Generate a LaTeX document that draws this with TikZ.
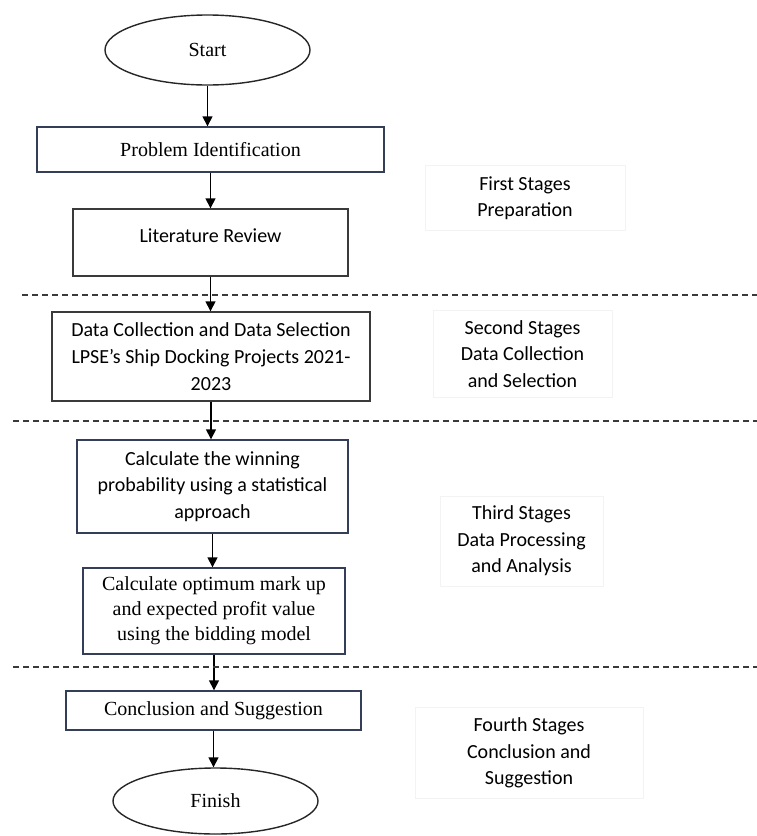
\documentclass[tikz,border=0pt]{standalone}
\usepackage{fontspec}
\setmainfont{Liberation Serif}
\newfontfamily\calib{Carlito}
\usetikzlibrary{shapes.geometric,arrows.meta}
\definecolor{navy}{RGB}{52,62,88}
\definecolor{dgray}{RGB}{58,58,58}
\definecolor{faint}{RGB}{243,243,243}
\begin{document}
\begin{tikzpicture}[x=1pt,y=-1pt,
  serifbox/.style={draw=navy,line width=1.4pt,inner sep=0pt,align=center,
     font=\fontsize{20}{25}\selectfont},
  sansbox/.style={draw=dgray,line width=1.4pt,inner sep=0pt,align=center,
     font=\calib\fontsize{20}{26.8}\selectfont},
  terminal/.style={ellipse,draw=black!85,line width=1.4pt,inner sep=0pt,
     font=\fontsize{20}{25}\selectfont},
  stagelabel/.style={draw=faint,line width=0.6pt,inner sep=0pt,align=center,
     font=\calib\fontsize{20}{26.5}\selectfont},
  flow/.style={draw=black,line width=1.5pt,-{Triangle[length=10pt,width=10pt]}},
  sep/.style={draw=dgray,line width=1.2pt,dash pattern=on 6pt off 4pt}]
\useasboundingbox (0,0) rectangle (757,836);

% flow nodes
\node[terminal,minimum width=205,minimum height=70] (start) at (207.5,50) {Start};
\node[serifbox,minimum width=347,minimum height=45] (pi) at (210.5,149.5) {Problem Identification};
\node[sansbox,draw=dgray,minimum width=275,minimum height=67] (lr) at (210.5,242.5) {};
\node[font=\calib\fontsize{20}{26.8}\selectfont,inner sep=0pt] (lrtext) at (210.5,236) {Literature Review};
\node[sansbox,minimum width=318,minimum height=89] (dc) at (211,356.5)
  {Data Collection and Data Selection\\LPSE’s Ship Docking Projects 2021-\\2023};
\node[sansbox,draw=navy,minimum width=271,minimum height=93] (cw) at (212.5,486.5)
  {Calculate the winning\\probability using a statistical\\approach};
\node[serifbox,minimum width=262,minimum height=86] (co) at (214,611)
  {Calculate optimum mark up\\and expected profit value\\using the bidding model};
\node[serifbox,minimum width=295,minimum height=39] (cs) at (213.5,710.5) {Conclusion and Suggestion};
\node[terminal,minimum width=205,minimum height=66] (fin) at (215.5,801) {Finish};

% connectors
\draw[flow] (start.south) -- (start.south |- pi.north);
\draw[flow] (pi.south) -- (pi.south |- lr.north);
\draw[flow] (lr.south) -- (lr.south |- dc.north);
\draw[flow] (dc.south) -- (dc.south |- cw.north);
\draw[flow] (cw.south) -- (cw.south |- co.north);
\draw[flow] (co.south) -- (co.south |- cs.north);
\draw[flow] (cs.south) -- (cs.south |- fin.north);

% stage separators
\coordinate (s1a) at (22,295);  \coordinate (s1b) at (757,295);
\coordinate (s2a) at (13,421);  \coordinate (s2b) at (757,421);
\coordinate (s3a) at (13,667);  \coordinate (s3b) at (757,667);
\draw[sep] (s1a) -- (s1b);
\draw[sep] (s2a) -- (s2b);
\draw[sep] (s3a) -- (s3b);

% stage labels
\node[stagelabel,minimum width=200,minimum height=65] (l1) at (525,198) {First Stages\\Preparation};
\node[stagelabel,minimum width=179,minimum height=87] (l2) at (522.5,354) {Second Stages\\Data Collection\\and Selection};
\node[stagelabel,minimum width=163,minimum height=90] (l3) at (521.5,541) {Third Stages\\Data Processing\\and Analysis};
\node[stagelabel,minimum width=228,minimum height=91] (l4) at (529,753) {Fourth Stages\\Conclusion and\\Suggestion};
\end{tikzpicture}
\end{document}
